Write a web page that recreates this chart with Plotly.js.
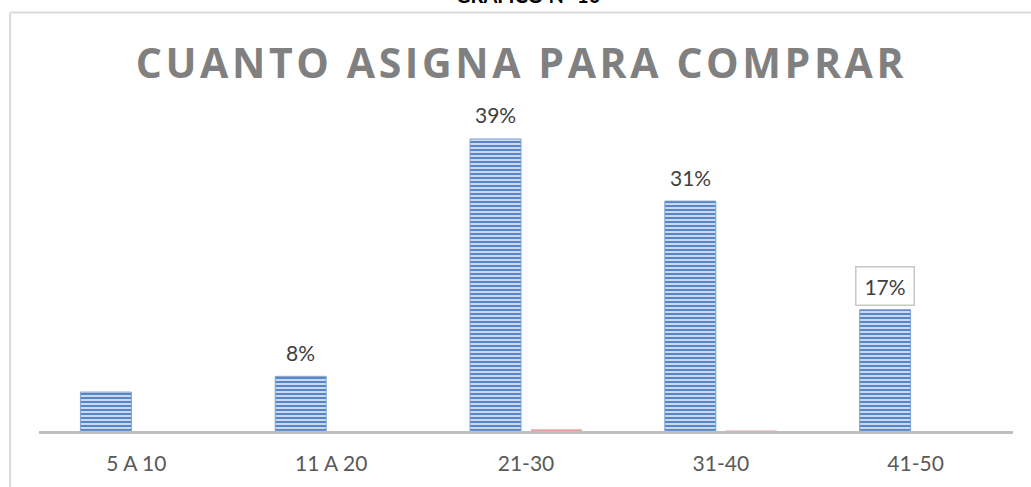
<!DOCTYPE html>
<html>
<head>
<meta charset="utf-8">
<script src="https://cdn.plot.ly/plotly-3.0.1.min.js"></script>
<style>
html,body{margin:0;padding:0;background:#fff;}
#chart{width:1031px;height:487px;}
.gtitle{letter-spacing:3.6px;}
</style>
</head>
<body>
<div id="chart"></div>
<script>
// Data
const categories = ['5 A 10', '11 A 20', '21-30', '31-40', '41-50'];
const seriesMain = [0.052, 0.073, 0.39, 0.307, 0.162];
const seriesSecond = [0, 0, 0.0025, 0.0008, 0];
const valueLabels = ['', '8%', '39%', '31%', '17%'];
const boxedLabel = [false, false, false, false, true];
const chartTitle = 'CUANTO ASIGNA PARA COMPRAR';
const headerText = 'GRAFICO N° 10';

const traces = [
  {
    type: 'bar',
    x: categories,
    y: seriesMain,
    marker: {
      color: '#a9c3e6',
      line: {color: '#7ea2d3', width: 1},
      pattern: {shape: '-', fgcolor: '#4a7cc0', bgcolor: '#c9d9ef', size: 4, solidity: 0.45, fillmode: 'replace'}
    },
    hoverinfo: 'skip'
  },
  {
    type: 'bar',
    x: categories,
    y: seriesSecond,
    marker: {color: '#e6a3a1'},
    hoverinfo: 'skip'
  }
];

const annotations = categories.map((c, i) => {
  if (!valueLabels[i]) return null;
  const a = {
    x: c, y: seriesMain[i], xref: 'x', yref: 'y',
    text: valueLabels[i], showarrow: false,
    xanchor: 'center', yanchor: 'middle',
    xshift: -30.5, yshift: 24,
    font: {family: 'Lato, sans-serif', size: 21, color: '#404040'}
  };
  if (boxedLabel[i]) {
    a.bordercolor = '#c8c8c8'; a.borderwidth = 1.5; a.bgcolor = '#ffffff';
    a.width = 55; a.height = 35;
  }
  return a;
}).filter(Boolean);

annotations.push({
  xref: 'paper', yref: 'paper', x: 0.503, y: 1, yanchor: 'bottom',
  yshift: 91, showarrow: false, text: '<b>' + headerText + '</b>',
  font: {family: 'Lato, sans-serif', size: 20, color: '#000000'}
});

const layout = {
  width: 1031, height: 487,
  margin: {l: 38.5, r: 17.5, t: 100, b: 56},
  paper_bgcolor: '#ffffff', plot_bgcolor: '#ffffff',
  showlegend: false,
  barmode: 'group', bargap: 0.374, bargroupgap: 0.164,
  title: {
    text: chartTitle,
    x: 0.5058, xref: 'container', xanchor: 'center',
    y: 0.8696, yref: 'container', yanchor: 'middle',
    font: {family: '"Open Sans", sans-serif', size: 41, color: '#808080', weight: 'bold'}
  },
  xaxis: {
    showline: true, linecolor: '#bfbfbf', linewidth: 3,
    ticks: '', showgrid: false, zeroline: false,
    tickfont: {family: 'Lato, sans-serif', size: 21, color: '#595959'},
    ticklabelstandoff: 12
  },
  yaxis: {
    range: [0, 0.442], visible: false, showgrid: false, zeroline: false, fixedrange: true
  },
  shapes: [
    {type: 'line', xref: 'paper', yref: 'paper', x0: -0.0297, x1: 1.05, y0: 1.264, y1: 1.264, line: {color: '#d9d9d9', width: 2}},
    {type: 'line', xref: 'paper', yref: 'paper', x0: -0.0297, x1: -0.0297, y0: 1.264, y1: -0.5, line: {color: '#d9d9d9', width: 2}}
  ],
  annotations: annotations
};

Plotly.newPlot('chart', traces, layout, {displayModeBar: false, staticPlot: true});
</script>
</body>
</html>
